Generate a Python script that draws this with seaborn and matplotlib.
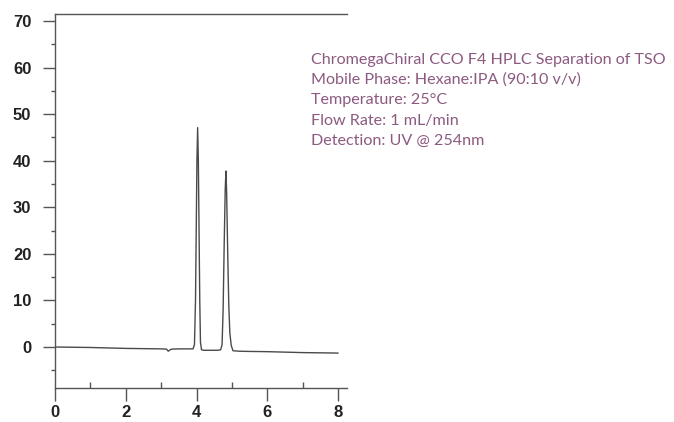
import matplotlib
matplotlib.use("Agg")
import matplotlib.pyplot as plt
import seaborn as sns
import pandas as pd
from matplotlib.ticker import MultipleLocator

# Chromatogram trace
time_min = [0.0, 0.5, 1.0, 1.5, 2.0, 2.5, 3.0, 3.15, 3.2, 3.25, 3.3, 3.5, 3.8, 3.90,
            3.94, 3.97, 3.99, 4.01, 4.03, 4.05, 4.07, 4.09, 4.11, 4.14, 4.2, 4.4, 4.6, 4.68,
            4.72, 4.75, 4.78, 4.81, 4.83, 4.85, 4.88, 4.91, 4.94, 4.98, 5.03, 5.2,
            5.5, 6.0, 6.5, 7.0, 7.5, 8.0]
signal = [0.0, -0.05, -0.1, -0.2, -0.3, -0.35, -0.4, -0.45, -0.9, -0.6, -0.45, -0.4, -0.4, -0.4,
          0.5, 10.0, 25.0, 40.0, 47.1, 40.0, 25.0, 10.0, 1.0, -0.6, -0.7, -0.7, -0.7, -0.6,
          0.5, 8.0, 22.0, 34.0, 37.8, 33.0, 20.0, 9.0, 3.0, 0.3, -0.8, -0.9,
          -0.95, -1.0, -1.1, -1.2, -1.25, -1.3]

x_ticks = [0, 2, 4, 6, 8]
y_ticks = [0, 10, 20, 30, 40, 50, 60, 70]

info_lines = [
    "ChromegaChiral CCO F4 HPLC Separation of TSO",
    "Mobile Phase: Hexane:IPA (90:10 v/v)",
    "Temperature: 25°C",
    "Flow Rate: 1 mL/min",
    "Detection: UV @ 254nm",
]

df = pd.DataFrame({"time": time_min, "signal": signal})

sns.set_style("ticks")
plt.rcParams["font.family"] = ["Liberation Sans", "DejaVu Sans"]

fig = plt.figure(figsize=(6.74, 4.22), dpi=100)
ax = fig.add_axes([55/674, 1 - 388/422, (347 - 55)/674, (388 - 14)/422])

sns.lineplot(data=df, x="time", y="signal", ax=ax, color="#4a4a4a", linewidth=1.0)

ax.set_xlim(0, 8.25)
ax.set_ylim(-8.8, 71.5)
ax.set_xticks(x_ticks)
ax.set_yticks(y_ticks)
ax.xaxis.set_minor_locator(MultipleLocator(1))
ax.yaxis.set_minor_locator(MultipleLocator(5))
ax.tick_params(axis="both", which="major", length=9, width=1.0, color="#555555",
               labelsize=12, labelcolor="#222222", direction="out")
ax.tick_params(axis="y", which="minor", length=3, width=1.0, color="#555555", direction="out")
ax.tick_params(axis="x", which="minor", length=4, width=1.0, color="#555555", direction="in")
ax.tick_params(axis="y", pad=8)
ax.tick_params(axis="x", pad=3)
for lab in ax.get_xticklabels() + ax.get_yticklabels():
    lab.set_fontweight("bold")

ax.spines["right"].set_visible(False)
for s in ["left", "top", "bottom"]:
    ax.spines[s].set_color("#555555")
    ax.spines[s].set_linewidth(1.0)

ax.set_xlabel("")
ax.set_ylabel("")

y_px = [60, 80, 100, 121, 141]
for line, yp in zip(info_lines, y_px):
    fig.text(311/674, 1 - yp/422, line, ha="left", va="center", fontsize=11.6,
             color="#8c5a80", family=["Lato", "DejaVu Sans"])

fig.savefig("out.png", dpi=100)
